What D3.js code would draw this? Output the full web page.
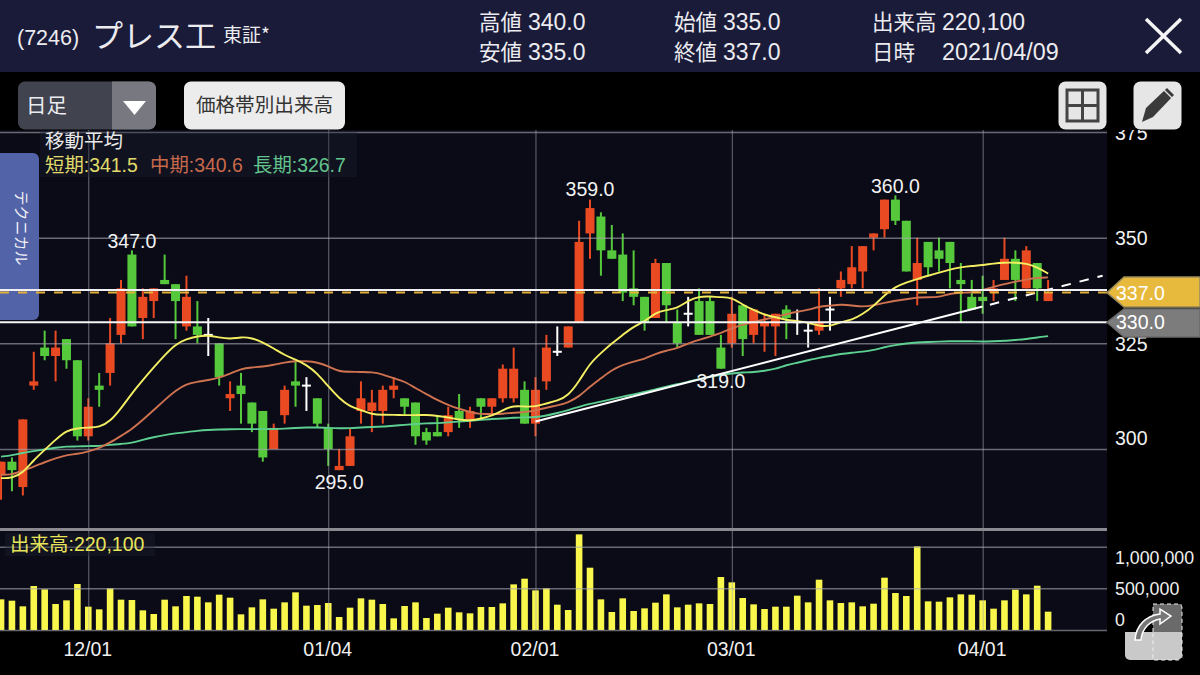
<!DOCTYPE html>
<html><head><meta charset="utf-8">
<script src="https://cdn.jsdelivr.net/npm/d3@7"></script>
<style>
html,body{margin:0;padding:0;background:#000;overflow:hidden}
svg{display:block}
text{font-family:"Liberation Sans","Noto Sans CJK JP",sans-serif}
.jp{font-family:"Noto Sans CJK JP",sans-serif}
</style></head><body><svg id="c" width="1200" height="675"></svg>
<script>
const opens=[294,297,291,315,324,322,326,321,303,315,318,327,346,331,335,340,339,329,329,327,325,312,315,311,309,300,308,316,315,312,305,295,296,309,309,309,314,312,311,304,304,304,309,307,312,310,312,312,314,306,316,323,324,330,351,355,347,346,338,336,331,344,330,332,335,335,324,325,334,327,329,329,333,330,328,328,333,338,339,342,350,352,359,354,340,349,347,349,340,336,336,337,340,345,338,344,335];
const closes=[297,295,307,316,322,324,321,303,310,314,325,338,329,336,338,339,335,336,327,327,317,313,313,306,298,305,314,315,315,306,300,296,303,312,311,314,315,310,303,302,303,308,307,309,310,312,319,319,306,314,324,323,329,349,357,347,345,337,336,330,344,334,325,332,327,327,319,332,326,333,330,332,331,330,328,330,333,340,343,348,351,359,354,342,344,343,345,344,339,333,335,338,345,340,347,338,337];
const highs=[297,298,307,323,328,328,326,321,312,318,331,340,347,338,338,346,339,341,335,331,325,316,318,311,309,306,315,321,317,312,306,300,305,316,314,315,317,312,311,305,308,310,313,310,312,312,320,324,316,317,327,329,329,354,359,356,353,351,347,336,345,344,333,336,338,336,327,336,334,333,332,332,334,333,330,338,336,342,348,348,351,359,360,354,350,349,350,349,344,340,341,340,350,347,348,344,340];
const lows=[288,290,289,314,321,316,319,302,302,310,315,325,329,326,331,339,326,328,325,322,315,309,306,304,297,300,306,310,309,305,296,295,296,306,304,306,312,308,301,301,303,303,305,305,307,308,311,311,306,303,314,322,324,330,345,341,345,335,334,328,331,330,324,329,327,327,319,324,322,325,323,322,326,327,324,327,328,336,338,338,347,350,353,342,334,341,342,338,330,333,332,335,340,335,338,335,335];
const volumes=[368000,352000,284000,528000,488000,312000,356000,552000,280000,248000,500000,364000,360000,236000,192000,364000,284000,408000,400000,332000,424000,388000,188000,272000,368000,256000,332000,452000,292000,300000,324000,156000,268000,380000,364000,312000,140000,288000,332000,144000,196000,268000,212000,200000,276000,276000,320000,548000,616000,476000,500000,304000,240000,1148000,748000,368000,216000,380000,228000,260000,328000,428000,272000,304000,320000,312000,636000,572000,384000,308000,252000,280000,280000,412000,332000,604000,356000,324000,332000,284000,316000,628000,444000,408000,1004000,344000,340000,392000,428000,424000,356000,256000,356000,484000,428000,532000,220100];
const maShort=[293.1,293.1,294.3,297.4,299.8,302.2,304.4,304.9,305.1,305.1,306.5,309.6,313.2,316.3,319.3,322.2,324.8,326,326.7,326.9,326.4,326,326.5,326.3,325.2,323.8,322.2,321.2,319.9,317.9,314.8,312,310,309.2,308.2,308.1,308.1,308,308,308.1,307.8,307.5,306.9,306.7,307.2,307.8,309.2,310.3,310,310,310.8,311.4,312.6,316,320.3,322.7,325,327,329,330.1,332.3,332.9,333.3,335.1,336.1,336.1,335.9,335.9,334.1,332.9,331.7,331.2,330.5,330.3,329.9,329.1,329,330.1,330.5,331.9,333.8,336.4,338.4,339.4,340.2,341,341.7,342.5,343,343.3,343.5,343.9,344.1,344.1,343.9,343,341.5];
const maMid=[293.9,293.9,294.9,295.8,296.9,297.8,298.6,298.8,299.4,300.2,301.5,303.1,304.7,306.9,309.2,311.6,313.8,315.4,315.9,316.3,316.9,317.8,319,319.3,319.5,319.9,320.5,320.8,320.8,320.5,319.6,318.3,318.3,318.2,318.2,317.7,316.7,316,314.4,313,311.6,310.4,309.5,308.7,308.2,308.3,308.3,308.6,308.7,309.1,309.8,310.3,311,312.4,314.8,316.7,318.7,319.9,320.7,321.3,322.5,323.3,323.8,325,325.8,326.6,327.4,328.6,329.4,330.1,330.7,331.2,331.9,332.5,332.9,333.7,333.9,334.2,334,333.6,334,334.6,335.1,335.4,335.9,335.9,335.9,336.8,337,337,337.6,338.4,339,339.6,340.1,340.5,340.6];
const maLong=[298.2,298.5,299.1,299.5,299.9,300.3,300.6,300.6,300.7,300.7,301,301.2,301.4,302.2,302.8,303.3,303.7,304,304.3,304.5,304.6,304.7,304.7,304.7,304.7,304.7,304.8,305,305.1,305.1,305,304.9,304.9,305.1,305.2,305.3,305.5,305.7,305.9,306.1,306.1,306.3,306.5,306.7,306.9,307.1,307.2,307.4,307.5,307.5,307.9,308.5,309.2,310,310.7,311.2,311.8,312.4,312.9,313.5,314.1,314.8,315.3,315.9,316.5,317.1,317.5,317.9,318.1,318.2,318.5,318.9,319.9,320.4,321,321.6,322,322.5,322.8,323,323.4,324.1,324.6,325,325.2,325.3,325.4,325.5,325.5,325.5,325.4,325.5,325.6,325.8,326,326.4,326.7];
const priceTicks=[375,350,325,300];
const volumeTicks=[1000000,500000,0];
const dateTickIdx=[8,30,49,67,90];
const dateTickLabels=["12/01","01/04","02/01","03/01","04/01"];
const peakLabels=[{i:12,p:347,t:"347.0"},{i:54,p:359,t:"359.0"},{i:82,p:360,t:"360.0"},{i:31,p:295,t:"295.0"},{i:66,p:319,t:"319.0"}];
const trendSolid=[[49,306.5],[90,333.7]];
const trendDash=[[90,333.7],[101,341]];
const refHigh=337.6, lastPrice=337, refLow=330;
const headerRows=[["高値","340.0"],["安値","335.0"],["始値","335.0"],["終値","337.0"]];

const svg=d3.select("#c");
const x=d3.scaleLinear().domain([0,96]).range([1.04,1048.1]);
const y=d3.scaleLinear().domain([300,375]).range([449,132]);
const yv=d3.scaleLinear().domain([0,1000000]).range([630,546.7]);
const defs=svg.append("defs");
defs.append("clipPath").attr("id","plot").append("rect").attr("x",0).attr("y",131).attr("width",1107).attr("height",399);
defs.append("clipPath").attr("id","axisClip").append("rect").attr("x",1107).attr("y",130).attr("width",93).attr("height",400);

svg.append("rect").attr("width",1200).attr("height",675).attr("fill","#000");
svg.append("rect").attr("x",0).attr("y",130).attr("width",1107).attr("height",500).attr("fill","#0a0b17");
svg.append("rect").attr("width",1200).attr("height",72).attr("fill","#1a1b39");

// candles
const g=svg.append("g").attr("clip-path","url(#plot)");
const cRed="#ea4a22",cGreen="#55c93b";
const idx=d3.range(opens.length);
const col=i=>closes[i]>opens[i]?cRed:closes[i]<opens[i]?cGreen:"#fff";
g.selectAll(".wick").data(idx).join("line").attr("x1",x).attr("x2",x)
 .attr("y1",i=>y(highs[i])).attr("y2",i=>y(lows[i])).attr("stroke",col).attr("stroke-width",2);
g.selectAll(".body").data(idx.filter(i=>opens[i]!==closes[i])).join("rect")
 .attr("x",i=>x(i)-4.5).attr("width",9)
 .attr("y",i=>y(Math.max(opens[i],closes[i])))
 .attr("height",i=>Math.abs(y(opens[i])-y(closes[i])))
 .attr("fill",col);
g.selectAll(".doji").data(idx.filter(i=>opens[i]===closes[i])).join("line")
 .attr("x1",i=>x(i)-4.5).attr("x2",i=>x(i)+4.5)
 .attr("y1",i=>y(opens[i])).attr("y2",i=>y(opens[i])).attr("stroke","#fff").attr("stroke-width",2);

// volume bars
svg.append("g").selectAll("rect").data(volumes).join("rect")
 .attr("x",(d,i)=>x(i)-3.3).attr("width",6.6)
 .attr("y",d=>yv(d)).attr("height",d=>630-yv(d)).attr("fill","#f9f64c");

// grid (drawn over the candles, translucent)
const gridCol="rgba(170,170,180,0.6)";
const gx=svg.append("g").attr("transform","translate(0,630)")
 .call(d3.axisBottom(x).tickValues(dateTickIdx).tickSize(-500).tickFormat(""));
gx.select(".domain").remove();
gx.selectAll("line").attr("stroke",gridCol).attr("stroke-width",1);
const gy=svg.append("g").call(d3.axisLeft(y).tickValues(priceTicks).tickSize(-1107).tickFormat(""));
gy.attr("transform","translate(1107,0)");
gy.select(".domain").remove();
gy.selectAll("line").attr("x2",-1107).attr("stroke",gridCol).attr("stroke-width",1.5);
const gv=svg.append("g").attr("transform","translate(1107,0)")
 .call(d3.axisLeft(yv).tickValues(volumeTicks).tickSize(1107).tickFormat(""));
gv.select(".domain").remove();
gv.selectAll("line").attr("x2",-1107).attr("stroke",gridCol).attr("stroke-width",1.5);
svg.append("rect").attr("x",0).attr("y",528).attr("width",1107).attr("height",3).attr("fill","#8a8a90");

// technical tab (reference lines pass over it)
const tab=svg.append("g");
tab.append("path").attr("d","M0 153H33a6 6 0 0 1 6 6V314a6 6 0 0 1 -6 6H0Z").attr("fill","#5263a7");
tab.append("text").attr("class","jp").attr("transform","translate(20,228) rotate(90)").attr("text-anchor","middle")
 .attr("fill","#f2f2f8").attr("font-size",15).attr("dominant-baseline","middle").text("テクニカル");

// MA lines
const line=d3.line().x((d,i)=>x(i)).y(d=>y(d)).curve(d3.curveBasis);
const gm=svg.append("g").attr("clip-path","url(#plot)");
[[maLong,"#5dcf90"],[maMid,"#cf7250"],[maShort,"#f4ee62"]].forEach(([s,c])=>{
 gm.append("path").attr("d",line(s)).attr("fill","none").attr("stroke",c).attr("stroke-width",1.9);
});

// horizontal reference and trend lines
const ln=d3.line().x(d=>x(d[0])).y(d=>y(d[1]));
gm.append("path").attr("d",ln(trendSolid)).attr("stroke","#fff").attr("stroke-width",2).attr("fill","none");
gm.append("path").attr("d",ln(trendDash)).attr("stroke","#fff").attr("stroke-width",2).attr("fill","none").attr("stroke-dasharray","9.5 9").attr("stroke-dashoffset",11);
const hl=(p,c,w,dash)=>svg.append("line").attr("x1",0).attr("x2",1107).attr("y1",y(p)).attr("y2",y(p)).attr("stroke",c).attr("stroke-width",w).attr("stroke-dasharray",dash||null);
hl(lastPrice,"#e4b23a",2,"9 9");
hl(refHigh,"#f0f0f4",2);
hl(refLow,"#f5f5f5",2);

// peak labels
const peakOffset={12:-8,54:-9,82:-8,31:14,66:14};
svg.append("g").selectAll("text").data(peakLabels).join("text")
 .attr("x",d=>x(d.i)).attr("y",d=>y(d.p)+peakOffset[d.i])
 .attr("text-anchor","middle").attr("fill","#f2f2f2").attr("font-size",19.5).attr("dominant-baseline","middle").text(d=>d.t);

// legend
svg.append("rect").attr("x",40).attr("y",131).attr("width",317).attr("height",46).attr("fill","rgba(30,32,48,0.35)");
svg.append("text").attr("class","jp").attr("x",45).attr("y",148).attr("fill","#e8e8e8").attr("font-size",19.5).text("移動平均");
const lg=[["短期:341.5","#e2dc6a",45],["中期:340.6","#c8694c",150],["長期:326.7","#62c48c",253]];
lg.forEach(([t,c,lx])=>svg.append("text").attr("x",lx).attr("y",172).attr("fill",c).attr("font-size",19.4).text(t));

svg.append("rect").attr("x",5).attr("y",533).attr("width",150).attr("height",23).attr("fill","rgba(30,32,48,0.4)");
svg.append("text").attr("x",10).attr("y",551).attr("fill","#e8e45a").attr("font-size",19.5).text("出来高:220,100");

// axes labels
const ax=svg.append("g").attr("transform","translate(0,630)")
 .call(d3.axisBottom(x).tickValues(dateTickIdx).tickSize(0).tickPadding(12).tickFormat((d,i)=>dateTickLabels[i]));
ax.select(".domain").remove();
ax.selectAll("text").attr("fill","#f0f0f0").attr("font-size",19.5).attr("font-family",'"Liberation Sans",sans-serif').attr("dx",-1);

const ay=svg.append("g").attr("clip-path","url(#axisClip)").append("g").attr("transform","translate(1107,0)")
 .call(d3.axisRight(y).tickValues(priceTicks).tickSize(0).tickPadding(8).tickFormat(d3.format("d")));
ay.select(".domain").remove();
ay.selectAll("text").attr("fill","#f2f2f2").attr("font-size",19.5).attr("font-family",'"Liberation Sans",sans-serif');
ay.selectAll(".tick").filter(d=>d===300).select("text").attr("dy",-5);
ay.selectAll(".tick").filter(d=>d!==300).select("text").attr("dy",7);

const av=svg.append("g").attr("transform","translate(1107,0)")
 .call(d3.axisRight(yv).tickValues(volumeTicks).tickSize(0).tickPadding(8).tickFormat(d3.format(",")));
av.select(".domain").remove();
const volLabelY={1000000:558,500000:589,0:620};
av.selectAll(".tick").attr("transform",d=>`translate(0,${volLabelY[d]})`);
av.selectAll("text").attr("fill","#f0f0f0").attr("font-size",17.8).attr("font-family",'"Liberation Sans",sans-serif').attr("dy",6);

// price tags
const tag=(p,top,bot,fill,edge,t)=>{
 const g=svg.append("g"),m=y(p);
 g.append("path").attr("d",`M1200 ${top}H1124L1107 ${m}L1124 ${bot}H1200Z`).attr("fill",fill).attr("stroke",edge).attr("stroke-width",1.5);
 g.append("text").attr("x",1116).attr("y",m+7).attr("fill","#fff").attr("font-size",19.5).text(t);
};
tag(lastPrice,277,307,"#e7ba3e","#9a8a5a","337.0");
tag(refLow,309,337,"#7c7c7c","#6a6a6a","330.0");

// header
const t=(x0,yy,txt,fs,cls)=>svg.append("text").attr("class",cls||null).attr("x",x0).attr("y",yy).attr("fill","#ececf0").attr("font-size",fs).text(txt);
t(17,45,"(7246)",21.5);
t(92,47,"プレス工",31,"jp");
t(223,42,"東証*",19,"jp");
const hx=[479,479,674,674];
const hy=[30,60,30,60];
headerRows.forEach((r,i)=>{t(hx[i],hy[i],r[0],21.5,"jp");t(hx[i]+49,hy[i],r[1],23);});
t(872,30,"出来高",21.5,"jp");t(942,30,"220,100",23);
t(872,60,"日時",21.5,"jp");t(942,60,"2021/04/09",23.3);
svg.append("path").attr("d","M1146 19L1181 53M1181 19L1146 53").attr("stroke","#f4f4f4").attr("stroke-width",3.5).attr("fill","none");

// toolbar
svg.append("rect").attr("x",18).attr("y",81.500).attr("width",138).attr("height",48).attr("rx",7).attr("fill","#41434e");
svg.append("path").attr("d","M112 81.500H149a7 7 0 0 1 7 7V122.500a7 7 0 0 1 -7 7H112Z").attr("fill","#777880");
svg.append("path").attr("d","M123 101H146L134.500 115Z").attr("fill","#fff");
t(26,113,"日足",20.5,"jp");
svg.append("rect").attr("x",184).attr("y",81.500).attr("width",161).attr("height",48).attr("rx",7).attr("fill","#ececec");
svg.append("text").attr("class","jp").attr("x",264.500).attr("y",112).attr("text-anchor","middle").attr("fill","#333").attr("font-size",19.600).text("価格帯別出来高");
svg.append("rect").attr("x",1058.500).attr("y",81.500).attr("width",48).attr("height",48).attr("rx",7).attr("fill","#e6e6e6");
svg.append("path").attr("d","M1067 90H1098V121H1067ZM1082.500 90V121M1067 105.500H1098").attr("fill","none").attr("stroke","#444").attr("stroke-width",3);
svg.append("rect").attr("x",1133.500).attr("y",81.500).attr("width",48).attr("height",48).attr("rx",7).attr("fill","#e6e6e6");
svg.append("path").attr("d","M1142 122L1146 108L1167 88L1174 95L1153 117Z").attr("fill","#3a3a3a");
svg.append("path").attr("d","M1164 90L1172 98").attr("stroke","#e6e6e6").attr("stroke-width",1.2);

// swap icon
svg.append("rect").attr("x",1153).attr("y",604).attr("width",29).attr("height",28).attr("fill","#6a6a6a");
svg.append("path").attr("d","M1125 632H1182V655a5 5 0 0 1 -5 5H1130a5 5 0 0 1 -5 -5Z").attr("fill","#c9c9c9");
svg.append("path").attr("d","M1153 632V604H1178a4 4 0 0 1 4 4V656a4 4 0 0 1 -4 4H1153V632").attr("fill","none").attr("stroke","#eee").attr("stroke-width",1).attr("stroke-dasharray","4 3");
svg.append("path").attr("d","M1135 640C1136 625 1146 616 1160 614V609L1171 616L1160 624V619C1150 621 1142 628 1141 640Z").attr("fill","#777").attr("stroke","#fff").attr("stroke-width",1.500);
</script></body></html>
